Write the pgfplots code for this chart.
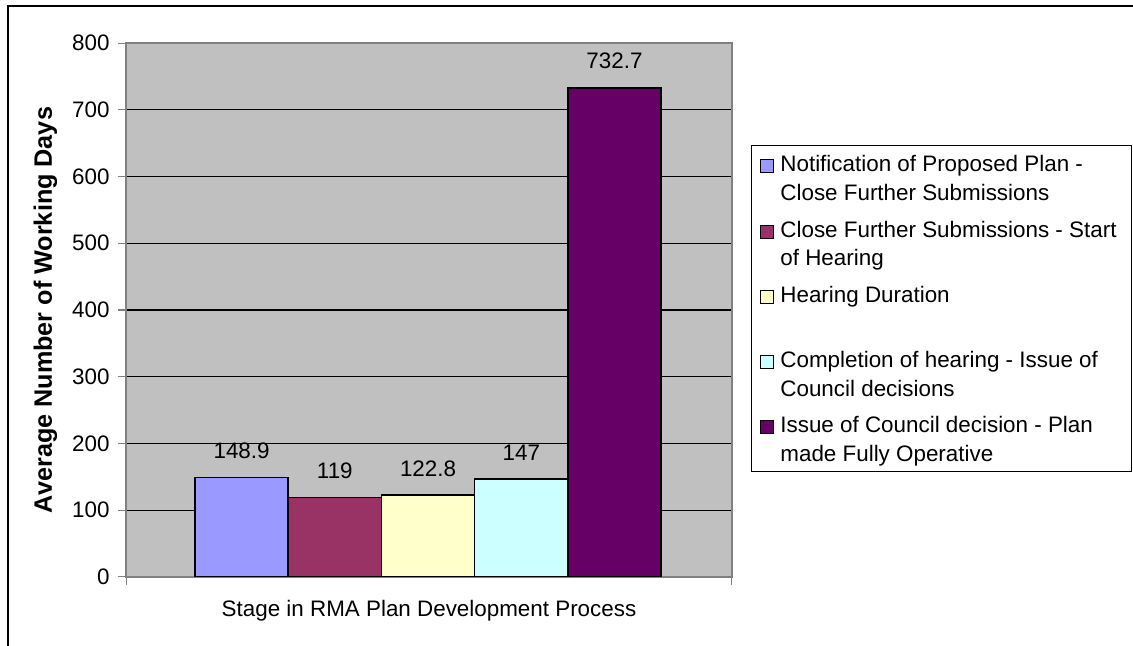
\documentclass[border=0pt]{standalone}
\usepackage{fontspec}
\setmainfont{Liberation Sans}
\usepackage{pgfplots}
\pgfplotsset{compat=1.18}

\definecolor{bgray}{HTML}{C0C0C0}
\definecolor{agray}{HTML}{808080}
\definecolor{cA}{HTML}{9999FF}
\definecolor{cB}{HTML}{993366}
\definecolor{cC}{HTML}{FFFFCC}
\definecolor{cD}{HTML}{CCFFFF}
\definecolor{cE}{HTML}{660066}

\newcommand{\chartfont}{\fontsize{11.2}{14.5}\selectfont}

\begin{document}
\begin{tikzpicture}
\path[use as bounding box] (0,0) rectangle (566.5pt,323pt);

\begin{axis}[
  at={(63pt,34.5pt)}, anchor=south west,
  scale only axis, width=303pt, height=267pt,
  ybar, bar width=1, bar shift=0pt,
  xmin=-0.24, xmax=6.26, ymin=0, ymax=800,
  ytick={0,100,...,800},
  xtick={-0.24,6.26}, xticklabels={},
  ytick pos=left, xtick pos=bottom,
  tick align=outside, major tick length=4pt,
  tick style={draw=agray, line width=0.5pt},
  axis line style={draw=agray, line width=0.75pt},
  axis background/.style={fill=bgray},
  ymajorgrids, major grid style={draw=black, line width=0.5pt},
  /pgf/number format/assume math mode=true,
  ticklabel style={font=\chartfont},
  yticklabel style={inner sep=0pt, xshift=-4pt},
  xlabel={Stage in RMA Plan Development Process},
  xlabel style={font=\chartfont, at={(axis description cs:0.5,0)}, anchor=base, yshift=-20pt},
  ylabel={\bfseries Average Number of Working Days},
  ylabel style={font=\fontsize{12.6}{15}\selectfont, at={(axis description cs:-0.1328,0.5)}, anchor=center},
  nodes near coords,
  every node near coord/.append style={font=\chartfont, anchor=south, inner sep=0pt, yshift=9pt, black},
]
\addplot[fill=cA, draw=black, line width=0.75pt] coordinates {(1,148.9)};
\addplot[fill=cB, draw=black, line width=0.75pt] coordinates {(2,119)};
\addplot[fill=cC, draw=black, line width=0.75pt] coordinates {(3,122.8)};
\addplot[fill=cD, draw=black, line width=0.75pt] coordinates {(4,147)};
\addplot[fill=cE, draw=black, line width=0.75pt] coordinates {(5,732.7)};
\end{axis}

\begin{scope}[x=0.5pt, y=-0.5pt, shift={(0pt,323pt)}, font=\chartfont]
  % outer chart frame
  \draw[line width=1pt] (8,650) -- (8,6) -- (1140,6);
  % legend
  \draw[line width=0.5pt, fill=white] (751,146) rectangle (1131.5,472);
  \foreach \c/\k in {cA/0, cB/1, cC/2, cD/3, cE/4} {
    \draw[fill=\c, line width=0.5pt] (760,{160+65.25*\k}) rectangle (773,{173+65.25*\k});
  }
  \node[anchor=base west, inner sep=0pt] at (780,172) {Notification of Proposed Plan -};
  \node[anchor=base west, inner sep=0pt] at (780,200.5) {Close Further Submissions};
  \node[anchor=base west, inner sep=0pt] at (780,237.25) {Close Further Submissions - Start};
  \node[anchor=base west, inner sep=0pt] at (780,265.75) {of Hearing};
  \node[anchor=base west, inner sep=0pt] at (780,302.5) {Hearing Duration};
  \node[anchor=base west, inner sep=0pt] at (780,367.75) {Completion of hearing - Issue of};
  \node[anchor=base west, inner sep=0pt] at (780,396.25) {Council decisions};
  \node[anchor=base west, inner sep=0pt] at (780,433) {Issue of Council decision - Plan};
  \node[anchor=base west, inner sep=0pt] at (780,461.5) {made Fully Operative};
\end{scope}
\end{tikzpicture}
\end{document}
